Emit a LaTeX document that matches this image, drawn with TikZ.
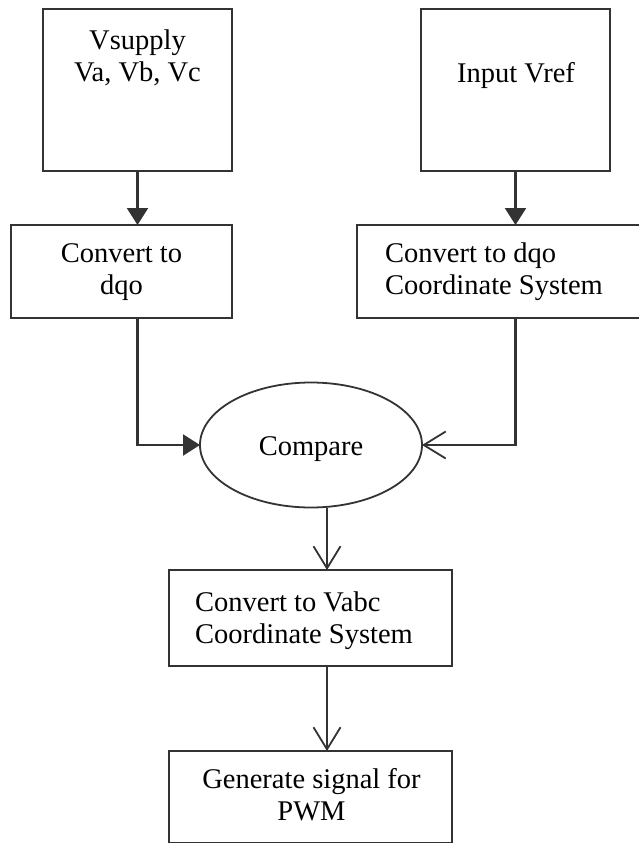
\documentclass[tikz,border=0pt]{standalone}
\usepackage{fontspec}
\setmainfont{Liberation Serif}
\usetikzlibrary{arrows.meta,shapes.geometric}
\begin{document}
\begin{tikzpicture}[x=1pt,y=-1pt,
  box/.style={draw=black!80, line width=2.2pt, rectangle, inner sep=0pt, outer sep=0pt},
  oval/.style={draw=black!80, line width=1.8pt, ellipse, inner sep=0pt, outer sep=0pt},
  txt/.style={inner sep=0pt, font=\fontsize{28.5pt}{32pt}\selectfont},
  conn/.style={draw=black!80, line width=2.2pt},
  solidtip/.style={conn, -{Triangle[length=17pt,width=21pt]}},
  opentip/.style={conn, -{Straight Barb[length=22pt,width=27pt,line width=1.8pt]}}]
\useasboundingbox (0,0) rectangle (639,843);
\clip (0,0) rectangle (639,843);
\fill[white] (0,0) rectangle (639,843);

% boxes
\node[box, minimum width=189pt, minimum height=162pt] (b1) at (137.5,90) {};
\node[box, minimum width=189pt, minimum height=162pt] (b3) at (515.5,90) {};
\node[box, minimum width=221pt, minimum height=93pt] (b2) at (121.5,271.5) {};
\node[box, minimum width=293pt, minimum height=93pt] (b4) at (503.5,271.5) {};
\node[oval, minimum width=222pt, minimum height=125pt] (cmp) at (311,445) {};
\node[box, minimum width=283pt, minimum height=96pt] (b5) at (310.5,618) {};
\node[box, minimum width=283pt, minimum height=92pt] (b6) at (310.5,797) {};

% texts
\node[txt, anchor=north, align=center] (t1) at (137.5,30) {Vsupply\\Va, Vb, Vc};
\node[txt, anchor=base] (t3) at (516,82) {Input Vref};
\node[txt, anchor=north, align=center] (t2) at (121.5,243) {Convert to\\dqo};
\node[txt, anchor=north west, align=left] (t4) at (385,243) {Convert to dqo\\Coordinate System};
\node[txt, anchor=base] (tc) at (311,455) {Compare};
\node[txt, anchor=north west, align=left] (t5) at (195,592) {Convert to Vabc\\Coordinate System};
\node[txt, anchor=north, align=center] (t6) at (311.5,768) {Generate signal for\\PWM};

% connectors
\coordinate (ax) at (327,0);
\draw[solidtip] (b1.south) -- (b1.south |- b2.north);
\draw[solidtip] (b3.south) -- (b3.south |- b4.north);
\draw[solidtip] (b1.south |- b2.south) -- (b1.south |- cmp.west) -- (cmp.west);
\draw[opentip] (b3.south |- b4.south) -- (b3.south |- cmp.east) -- (cmp.east);
\draw[opentip] (ax |- cmp.south) -- (ax |- b5.north);
\draw[opentip] (ax |- b5.south) -- (ax |- b6.north);
\end{tikzpicture}
\end{document}
